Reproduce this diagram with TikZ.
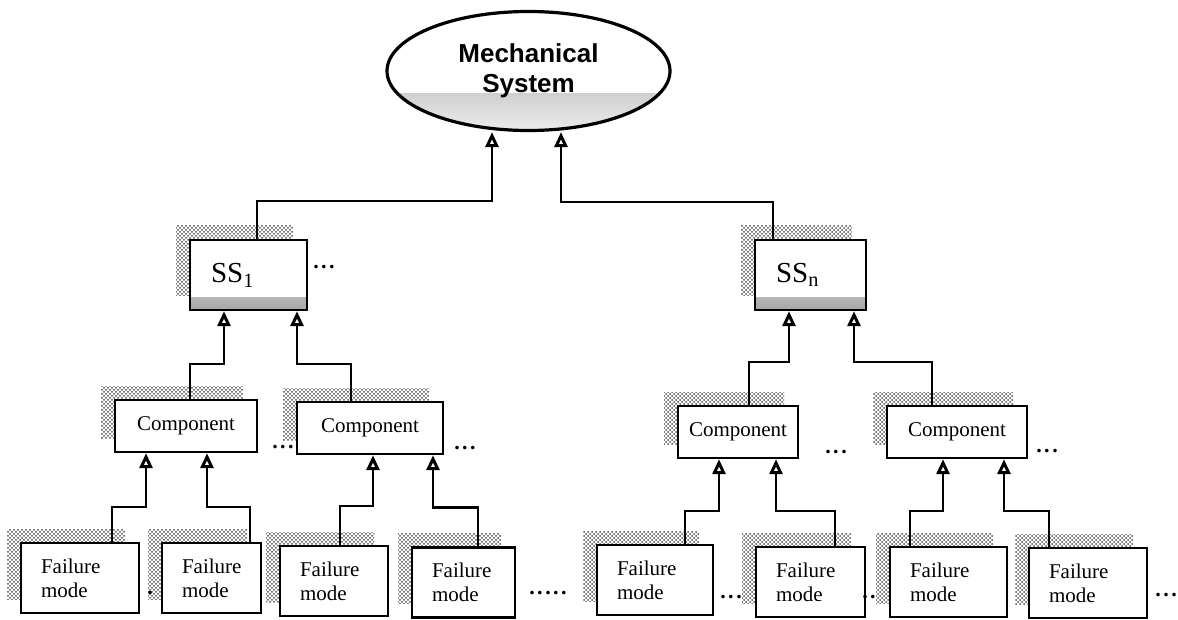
\documentclass[tikz,border=0pt]{standalone}
\usepackage{fontspec}
\setmainfont{Liberation Serif}
\setsansfont{Liberation Sans}
\usetikzlibrary{shapes.geometric,arrows.meta,patterns,shadows}

% coarse stipple used for the box shadows
\pgfdeclarepatternformonly{stipple}{\pgfpoint{-1pt}{-1pt}}{\pgfpoint{3pt}{3pt}}{\pgfpoint{4pt}{4pt}}{%
  \pgfpathcircle{\pgfpoint{0pt}{0pt}}{1pt}%
  \pgfpathcircle{\pgfpoint{2pt}{2pt}}{1pt}%
  \pgfusepath{fill}}

\tikzset{
  % boxes with a stippled shadow to the upper left
  base/.style={draw, line width=2.4pt, fill=white, inner ysep=0pt,
    general shadow={draw=none, shadow xshift=-14pt, shadow yshift=14pt,
      pattern=stipple, pattern color=black!70}},
  fmbox/.style={base, minimum width=#1, minimum height=70pt,
    text width=#1-40pt, inner xsep=20pt, align=left,
    font=\fontsize{21}{24}\selectfont},
  compbox/.style={base, minimum width=#1, minimum height=52pt, inner xsep=0pt,
    font=\fontsize{21}{24}\selectfont},
  ssbox/.style={base, minimum width=#1, minimum height=70pt,
    text width=#1-42pt, inner xsep=21pt, align=left,
    font=\fontsize{29}{32}\selectfont,
    path picture={\shade[top color=white, bottom color=gray!70]
      ([yshift=12pt]path picture bounding box.south west)
      rectangle (path picture bounding box.south east);}},
  sysnode/.style={draw, ellipse, line width=3.2pt, fill=white, inner sep=0pt,
    minimum width=283pt, minimum height=119pt, align=center,
    font=\sffamily\bfseries\fontsize{26}{30}\selectfont,
    path picture={\shade[top color=gray!85, bottom color=gray!15]
      (path picture bounding box.south west)
      rectangle ([yshift=37pt]path picture bounding box.south east);}},
  link/.style={draw, line width=2.4pt, line join=miter,
    -{Triangle[open, length=15pt, width=13pt, line width=3pt]}},
  ellip/.style={inner sep=0pt, font=\bfseries\fontsize{22}{22}\selectfont}
}

\newcommand{\dotrow}[1]{%
  \foreach \k in {1,...,#1}{\ifnum\k>1\kern2.5pt\fi.}}

\begin{document}
\begin{tikzpicture}[x=1pt, y=-1pt]
  \useasboundingbox (0,0) rectangle (1178,620);

  % top level
  \node[sysnode] (mech) at (528.5,71) {Mechanical\\System};

  % subsystems
  \node[ssbox=117pt] (ss1) at (248.5,275) {SS\textsubscript{1}};
  \node[ssbox=111pt] (ssn) at (810.5,275) {SS\textsubscript{n}};

  % components
  \node[compbox=142pt] (c1) at (186,426) {Component};
  \node[compbox=146pt] (c2) at (370,428) {Component};
  \node[compbox=120pt] (c3) at (738,432) {Component};
  \node[compbox=140pt] (c4) at (957,432) {Component};

  % failure modes
  \node[fmbox=118pt] (f1) at (80,578)     {Failure\\mode};
  \node[fmbox=99pt]  (f2) at (211.5,578)  {Failure\\mode};
  \node[fmbox=108pt] (f3) at (334,581)    {Failure\\mode};
  \node[fmbox=103pt] (f4) at (463.5,582.5){Failure\\mode};
  \node[fmbox=116pt] (f5) at (655,580)    {Failure\\mode};
  \node[fmbox=109pt] (f6) at (810.5,582)  {Failure\\mode};
  \node[fmbox=117pt] (f7) at (948.5,582)  {Failure\\mode};
  \node[fmbox=118pt] (f8) at (1088,583)   {Failure\\mode};

  % subsystems to system
  \draw[link] ([xshift=8.5pt]ss1.north) -- ++(0,-38) -| ([xshift=-36.5pt]mech.south);
  \draw[link] ([xshift=-37.5pt]ssn.north) -- ++(0,-37) -| ([xshift=32.5pt]mech.south);

  % components to subsystems
  \draw[link] ([xshift=4pt]c1.north)   -- ++(0,-35) -| ([xshift=-24.5pt]ss1.south);
  \draw[link] ([xshift=-19pt]c2.north) -- ++(0,-37) -| ([xshift=48.5pt]ss1.south);
  \draw[link] ([xshift=11pt]c3.north)  -- ++(0,-43) -| ([xshift=-21.5pt]ssn.south);
  \draw[link] ([xshift=-25pt]c4.north) -- ++(0,-43) -| ([xshift=43.5pt]ssn.south);

  % failure modes to components
  \draw[link] ([xshift=32pt]f1.north)    -- ++(0,-35) -| ([xshift=-40pt]c1.south);
  \draw[link] ([xshift=38.5pt]f2.north)  -- ++(0,-35) -| ([xshift=21pt]c1.south);
  \draw[link] ([xshift=6pt]f3.north)     -- ++(0,-39) -| ([xshift=3pt]c2.south);
  \draw[link] ([xshift=14.5pt]f4.north)  -- ++(0,-39) -| ([xshift=63pt]c2.south);
  \draw[link] ([xshift=30pt]f5.north)    -- ++(0,-33) -| ([xshift=-19pt]c3.south);
  \draw[link] ([xshift=24.5pt]f6.north)  -- ++(0,-35) -| ([xshift=38pt]c3.south);
  \draw[link] ([xshift=-38.5pt]f7.north) -- ++(0,-35) -| ([xshift=-14pt]c4.south);
  \draw[link] ([xshift=-39pt]f8.north)   -- ++(0,-36) -| ([xshift=47pt]c4.south);

  % ellipses marking further elements
  \node[ellip] (e1) at (324,267)  {\dotrow{3}};
  \node[ellip] (e2) at (283,447)  {\dotrow{3}};
  \node[ellip] (e3) at (465,448)  {\dotrow{3}};
  \node[ellip] (e4) at (836,452)  {\dotrow{3}};
  \node[ellip] (e5) at (1047,451) {\dotrow{3}};
  \node[ellip] (e6) at (150,593)  {\dotrow{1}};
  \node[ellip] (e7) at (548,593)  {\dotrow{5}};
  \node[ellip] (e8) at (731,597)  {\dotrow{3}};
  \node[ellip] (e9) at (869,597)  {\dotrow{2}};
  \node[ellip] (e10) at (1166,595) {\dotrow{3}};
\end{tikzpicture}
\end{document}
